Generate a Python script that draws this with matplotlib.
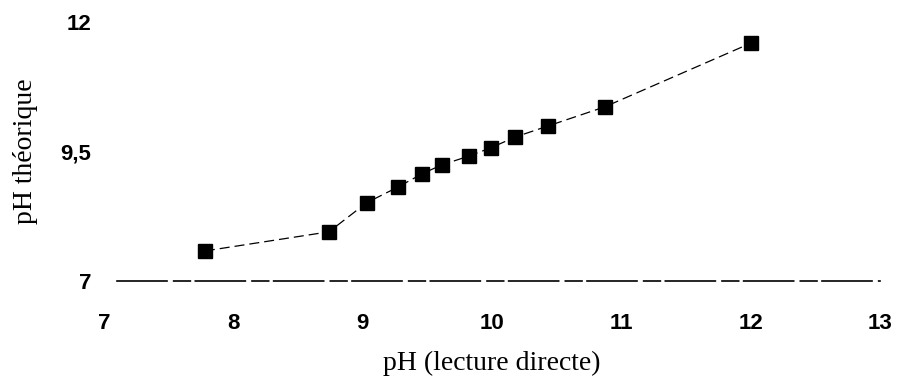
import numpy as np
import matplotlib.pyplot as plt

# measured points: direct reading vs theoretical pH
ph_direct = [7.78, 8.74, 9.03, 9.27, 9.46, 9.61, 9.82, 9.99, 10.18, 10.43, 10.87, 12.0]
ph_theo = [7.58, 7.95, 8.51, 8.81, 9.07, 9.24, 9.41, 9.57, 9.78, 9.99, 10.36, 11.59]

x_ticks = [7, 8, 9, 10, 11, 12, 13]
y_ticks = [7, 9.5, 12]
y_tick_labels = ['7', '9,5', '12']

fig = plt.figure(figsize=(9, 3.78), dpi=100)
ax = fig.add_axes([104/900, 97/378, 776/900, 259/378])

# faint, broken connecting line (scanned look)
ax.plot(ph_direct, ph_theo, color='k', linewidth=0.9, dashes=(8, 4))
ax.plot(ph_direct, ph_theo, linestyle='none', marker='s', markersize=10,
        color='k')

ax.set_xlim(7, 13)
ax.set_ylim(7, 12)
ax.set_xticks(x_ticks)
ax.set_yticks(y_ticks)
ax.set_yticklabels(y_tick_labels)
ax.tick_params(length=0, labelsize=16)
ax.tick_params(axis='x', pad=23)
ax.tick_params(axis='y', pad=9)
for lab in ax.get_xticklabels() + ax.get_yticklabels():
    lab.set_family('Liberation Sans')
    lab.set_fontweight('bold')

for side in ['top', 'right', 'left']:
    ax.spines[side].set_visible(False)
ax.spines['bottom'].set_linewidth(1.2)
ax.spines['bottom'].set_linestyle((0, (30, 4, 10, 3)))
ax.spines['bottom'].set_bounds(7.1, 13)

ax.set_xlabel('pH (lecture directe)', family='Liberation Serif', fontsize=20,
              labelpad=12)
ax.set_ylabel('pH théorique', family='Liberation Serif', fontsize=20,
              labelpad=16)

fig.savefig('out.png', dpi=100)
